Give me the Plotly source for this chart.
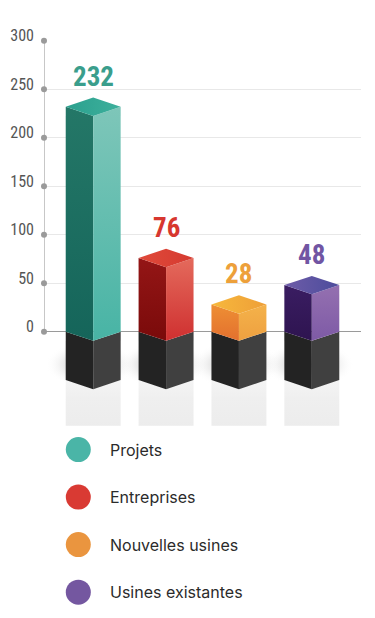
import plotly.graph_objects as go
import numpy as np

# ---- data ----
categories = ["Projets", "Entreprises", "Nouvelles usines", "Usines existantes"]
values = [232, 76, 28, 48]
tick_vals = [0, 50, 100, 150, 200, 250, 300]
tick_text = ["0", "50", "100", "150", "200", "250", "300"]

# ---- styles ----
legend_colors = ["#4ab5a7", "#d93a33", "#ea953f", "#7457a0"]
label_colors = ["#3a9e8c", "#d7372f", "#eda03a", "#7155a3"]
left_face = [("#15655a", "#247767"), ("#7a0a0a", "#941616"), ("#e3702e", "#ee8f34"), ("#2e1450", "#3a1d62")]
right_face = [("#48b4a5", "#7ec6b9"), ("#cf3030", "#e46a5c"), ("#eea040", "#f4b24a"), ("#7e5aa6", "#9470b0")]
top_face = [("#2ba08e", "#3db09c"), ("#e04a3a", "#d53a30"), ("#f7b83c", "#ee9f38"), ("#6e5ca8", "#4c4c9c")]

NUM_FONT = "Roboto Condensed, Roboto, sans-serif"

W = 0.377      # half bar width (x units)
D = 9.5        # diamond half height (y units)
BASE = 50      # dark base depth
REFL = 113     # reflection bottom
NOTCH = 9

fig = go.Figure()

def poly(xs, ys, fillcolor=None, grad=None):
    tr = dict(x=list(xs) + [xs[0]], y=list(ys) + [ys[0]], mode="lines", fill="toself",
              line=dict(width=0), hoverinfo="skip", showlegend=False,
              xaxis="x", yaxis="y")
    if grad is not None:
        tr["fillgradient"] = grad
    else:
        tr["fillcolor"] = fillcolor
    fig.add_trace(go.Scatter(**tr))

# soft shadows behind the bases
for i, v in enumerate(values):
    c = i
    t = np.linspace(0, 2 * np.pi, 60)
    ex = c - 0.04 + (W + 0.24) * np.cos(t)
    ey = -BASE + 16 + 24 * np.sin(t)
    poly(ex, ey, grad=dict(type="radial", colorscale=[[0, "rgba(110,110,110,0.5)"], [0.6, "rgba(190,190,190,0.3)"], [1, "rgba(255,255,255,0)"]]))

for i, v in enumerate(values):
    c = i
    # reflection
    poly([c - W, c, c + W, c + W, c, c - W],
         [-BASE, -BASE - NOTCH, -BASE, -REFL, -REFL + NOTCH, -REFL],
         grad=dict(type="vertical", colorscale=[[0, "#ebebeb"], [0.7, "#efefef"], [1, "#f4f4f4"]]))
    # dark base
    poly([c - W, c, c, c - W], [0, -D, -D - BASE, -BASE], fillcolor="#232323")
    poly([c, c + W, c + W, c], [-D, 0, -BASE, -D - BASE], fillcolor="#404040")
    # coloured faces
    lf = left_face[i]
    rf = right_face[i]
    tf = top_face[i]
    poly([c - W, c - W, c, c], [0, v, v - D, -D],
         grad=dict(type="vertical", colorscale=[[0, lf[0]], [1, lf[1]]]))
    poly([c, c, c + W, c + W], [-D, v - D, v, 0],
         grad=dict(type="vertical", colorscale=[[0, rf[0]], [1, rf[1]]]))
    poly([c - W, c, c + W, c], [v, v + D, v, v - D],
         grad=dict(type="horizontal", colorscale=[[0, tf[0]], [1, tf[1]]]))
    fig.add_annotation(x=c, y=v, xref="x", yref="y", text=str(v), showarrow=False,
                       yshift=30, font=dict(family=NUM_FONT, size=27,
                                            color=label_colors[i], weight="bold"))

# vertical axis line with dots
fig.add_trace(go.Scatter(x=[-0.675] * len(tick_vals), y=tick_vals, mode="lines+markers",
                         line=dict(color="#b5b5b5", width=1.5),
                         marker=dict(color="#9a9a9a", size=6), cliponaxis=False,
                         hoverinfo="skip", showlegend=False, xaxis="x", yaxis="y"))

# legend (custom)
fig.add_trace(go.Scatter(x=[70.3] * len(categories), y=list(range(len(categories))),
                         mode="markers", marker=dict(size=25, color=legend_colors),
                         hoverinfo="skip", showlegend=False, xaxis="x2", yaxis="y2",
                         cliponaxis=False))
for i, name in enumerate(categories):
    fig.add_annotation(x=100, y=i, xref="x2", yref="y2", text=name, showarrow=False,
                       xanchor="left", font=dict(family="Inter", size=16, color="#2b2b2b"))

FW, FH = 359.0, 602.0
PX_PER_UNIT = 297.7 / 300
top_px = 19.3
zero_px = 317.0
y_bottom = -120
bottom_px = zero_px - y_bottom * PX_PER_UNIT

fig.update_layout(
    width=int(FW), height=int(FH),
    margin=dict(l=0, r=0, t=0, b=0),
    paper_bgcolor="white", plot_bgcolor="white",
    xaxis=dict(domain=[36 / FW, 353 / FW], range=[-0.675, 3.675], visible=False, fixedrange=True),
    yaxis=dict(domain=[(FH - bottom_px) / FH, (FH - top_px) / FH], range=[y_bottom, 300],
               tickvals=tick_vals, ticktext=tick_text, showgrid=True, gridcolor="#e8e8e8",
               gridwidth=1, zeroline=True, zerolinecolor="#9a9a9a", zerolinewidth=1,
               showline=False, ticks="", ticklabelstandoff=9, ticklabelshift=-5,
               tickfont=dict(family=NUM_FONT, size=16, color="#555555"),
               fixedrange=True),
    xaxis2=dict(domain=[0, 1], range=[0, FW], visible=False, fixedrange=True),
    yaxis2=dict(domain=[0, (FH - 413.4) / FH], range=[3 + (FH - 583.7) / 48.67, -0.5],
                visible=False, fixedrange=True),
    showlegend=False,
)

fig.write_html("out.html")
